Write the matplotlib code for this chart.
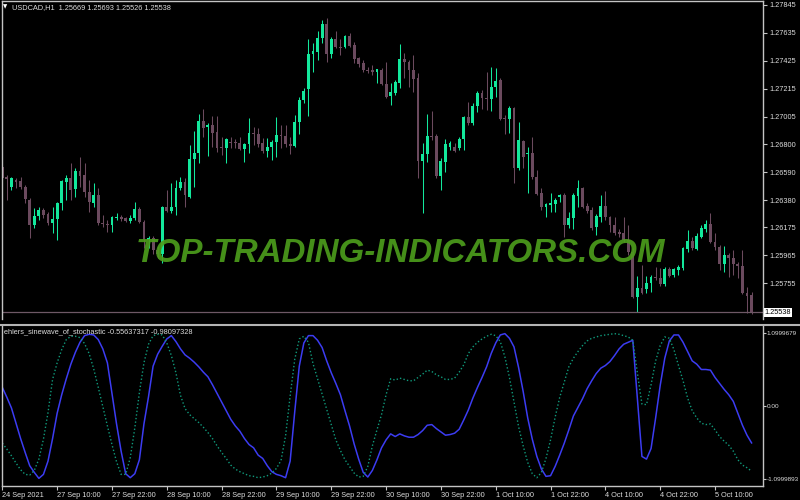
import matplotlib.pyplot as plt
import numpy as np

plt.rcParams["font.family"] = ["Liberation Sans", "DejaVu Sans"]

# USDCAD H1 candles, 24 Sep 2021 - 5 Oct 2021
opens = [
    1.26628, 1.26553, 1.26478, 1.26530, 1.26523, 1.26478, 1.26380, 1.26193, 1.26260, 1.26305,
    1.26275, 1.26208, 1.26238, 1.26358, 1.26515, 1.26545, 1.26463, 1.26598, 1.26568, 1.26440,
    1.26358, 1.26418, 1.26208, 1.26200, 1.26193, 1.26245, 1.26253, 1.26245, 1.26223, 1.26245,
    1.26313, 1.26215, 1.26080, 1.26095, 1.26005, 1.25975, 1.26328, 1.26298, 1.26328, 1.26470,
    1.26515, 1.26403, 1.26688, 1.26733, 1.26973, 1.26928, 1.26943, 1.26890, 1.26778, 1.26770,
    1.26815, 1.26815, 1.26808, 1.26763, 1.26800, 1.26883, 1.26875, 1.26808, 1.26748, 1.26778,
    1.26815, 1.26868, 1.26860, 1.26800, 1.26785, 1.26965, 1.27130, 1.27213, 1.27475, 1.27490,
    1.27595, 1.27700, 1.27475, 1.27588, 1.27528, 1.27528, 1.27610, 1.27543, 1.27445, 1.27408,
    1.27355, 1.27355, 1.27340, 1.27355, 1.27250, 1.27160, 1.27183, 1.27258, 1.27438, 1.27415,
    1.27355, 1.27295, 1.26673, 1.26725, 1.26860, 1.26860, 1.26560, 1.26665, 1.26778, 1.26778,
    1.26770, 1.26838, 1.27003, 1.26958, 1.27085, 1.27183, 1.27145, 1.27138, 1.27228, 1.27280,
    1.26995, 1.26988, 1.27070, 1.26620, 1.26823, 1.26725, 1.26733, 1.26553, 1.26433, 1.26328,
    1.26343, 1.26350, 1.26403, 1.26418, 1.26193, 1.26245, 1.26410, 1.26470, 1.26335, 1.26305,
    1.26178, 1.26253, 1.26335, 1.26253, 1.26193, 1.26140, 1.26133, 1.26080, 1.25990, 1.25653,
    1.25720, 1.25713, 1.25758, 1.25803, 1.25795, 1.25750, 1.25863, 1.25818, 1.25855, 1.25870,
    1.26013, 1.26073, 1.26013, 1.26103, 1.26163, 1.26200, 1.26065, 1.26028, 1.25900, 1.25968,
    1.25945, 1.25900, 1.25885, 1.25683, 1.25669,
]
highs = [
    1.26643, 1.26568, 1.26553, 1.26545, 1.26553, 1.26493, 1.26395, 1.26320, 1.26328, 1.26320,
    1.26290, 1.26328, 1.26365, 1.26530, 1.26568, 1.26658, 1.26620, 1.26703, 1.26658, 1.26530,
    1.26508, 1.26470, 1.26268, 1.26230, 1.26260, 1.26283, 1.26268, 1.26253, 1.26268, 1.26365,
    1.26328, 1.26230, 1.26110, 1.26110, 1.26035, 1.26335, 1.26455, 1.26508, 1.26530, 1.26553,
    1.26545, 1.26793, 1.26898, 1.27025, 1.27063, 1.26958, 1.27010, 1.27010, 1.26853, 1.26845,
    1.26853, 1.26838, 1.26853, 1.26808, 1.26995, 1.26928, 1.26920, 1.26845, 1.26845, 1.26830,
    1.27003, 1.26943, 1.26943, 1.26853, 1.27018, 1.27153, 1.27220, 1.27588, 1.27558, 1.27648,
    1.27730, 1.27745, 1.27603, 1.27648, 1.27588, 1.27618, 1.27633, 1.27565, 1.27453, 1.27430,
    1.27378, 1.27393, 1.27363, 1.27370, 1.27415, 1.27258, 1.27280, 1.27550, 1.27483, 1.27430,
    1.27468, 1.27333, 1.26808, 1.27025, 1.27048, 1.26875, 1.26695, 1.26838, 1.26823, 1.26808,
    1.26853, 1.27010, 1.27115, 1.27108, 1.27198, 1.27205, 1.27340, 1.27378, 1.27370, 1.27295,
    1.27018, 1.27085, 1.27078, 1.26965, 1.26830, 1.26778, 1.26853, 1.26605, 1.26470, 1.26358,
    1.26433, 1.26395, 1.26425, 1.26433, 1.26290, 1.26433, 1.26530, 1.26478, 1.26358, 1.26328,
    1.26275, 1.26418, 1.26448, 1.26260, 1.26253, 1.26163, 1.26253, 1.26193, 1.26020, 1.25810,
    1.25893, 1.25810, 1.25818, 1.25878, 1.25870, 1.25878, 1.25878, 1.25870, 1.25893, 1.26028,
    1.26155, 1.26103, 1.26133, 1.26193, 1.26230, 1.26283, 1.26133, 1.26043, 1.26035, 1.25983,
    1.26005, 1.25915, 1.26005, 1.25728, 1.25693,
]
lows = [
    1.26530, 1.26380, 1.26455, 1.26470, 1.26463, 1.26358, 1.26095, 1.26170, 1.26230, 1.26245,
    1.26193, 1.26133, 1.26080, 1.26305, 1.26380, 1.26380, 1.26403, 1.26478, 1.26403, 1.26290,
    1.26328, 1.26193, 1.26178, 1.26140, 1.26140, 1.26230, 1.26223, 1.26215, 1.26208, 1.26230,
    1.26208, 1.26020, 1.26020, 1.25975, 1.25945, 1.25908, 1.26290, 1.26283, 1.26268, 1.26455,
    1.26328, 1.26395, 1.26478, 1.26658, 1.26853, 1.26710, 1.26778, 1.26740, 1.26718, 1.26658,
    1.26770, 1.26770, 1.26755, 1.26665, 1.26733, 1.26793, 1.26778, 1.26733, 1.26703, 1.26680,
    1.26703, 1.26770, 1.26778, 1.26725, 1.26778, 1.26875, 1.27108, 1.27010, 1.27340, 1.27430,
    1.27558, 1.27415, 1.27445, 1.27520, 1.27468, 1.27520, 1.27528, 1.27408, 1.27378, 1.27340,
    1.27333, 1.27318, 1.27258, 1.27243, 1.27145, 1.27093, 1.27168, 1.27220, 1.27295, 1.27228,
    1.27190, 1.26545, 1.26283, 1.26665, 1.26830, 1.26545, 1.26455, 1.26590, 1.26755, 1.26740,
    1.26755, 1.26755, 1.26943, 1.26943, 1.27040, 1.27063, 1.27055, 1.27048, 1.27153, 1.26980,
    1.26875, 1.26883, 1.26508, 1.26605, 1.26620, 1.26433, 1.26538, 1.26418, 1.26305, 1.26253,
    1.26290, 1.26290, 1.26365, 1.26103, 1.26170, 1.26163, 1.26328, 1.26320, 1.26283, 1.26155,
    1.26118, 1.26215, 1.26230, 1.26140, 1.26118, 1.26103, 1.26065, 1.25968, 1.25645, 1.25540,
    1.25675, 1.25683, 1.25690, 1.25780, 1.25735, 1.25735, 1.25803, 1.25803, 1.25818, 1.25855,
    1.25990, 1.26005, 1.26005, 1.26095, 1.26140, 1.26058, 1.26005, 1.25855, 1.25840, 1.25803,
    1.25818, 1.25795, 1.25675, 1.25533, 1.25526,
]
closes = [
    1.26545, 1.26538, 1.26545, 1.26515, 1.26478, 1.26388, 1.26193, 1.26260, 1.26305, 1.26268,
    1.26208, 1.26238, 1.26358, 1.26523, 1.26545, 1.26455, 1.26598, 1.26560, 1.26440, 1.26365,
    1.26418, 1.26208, 1.26200, 1.26193, 1.26253, 1.26253, 1.26238, 1.26223, 1.26245, 1.26313,
    1.26215, 1.26080, 1.26095, 1.26005, 1.25975, 1.26328, 1.26298, 1.26328, 1.26470, 1.26515,
    1.26418, 1.26688, 1.26733, 1.26973, 1.26920, 1.26943, 1.26883, 1.26770, 1.26770, 1.26838,
    1.26808, 1.26808, 1.26763, 1.26800, 1.26883, 1.26875, 1.26800, 1.26748, 1.26778, 1.26815,
    1.26868, 1.26860, 1.26800, 1.26785, 1.26965, 1.27130, 1.27198, 1.27475, 1.27498, 1.27595,
    1.27700, 1.27475, 1.27588, 1.27528, 1.27520, 1.27610, 1.27535, 1.27438, 1.27400, 1.27355,
    1.27348, 1.27340, 1.27363, 1.27250, 1.27153, 1.27190, 1.27265, 1.27438, 1.27415, 1.27355,
    1.27288, 1.26673, 1.26725, 1.26860, 1.26853, 1.26560, 1.26673, 1.26800, 1.26808, 1.26748,
    1.26838, 1.27003, 1.26958, 1.27085, 1.27183, 1.27145, 1.27138, 1.27228, 1.27273, 1.26988,
    1.26988, 1.27070, 1.26620, 1.26830, 1.26703, 1.26733, 1.26553, 1.26425, 1.26328, 1.26350,
    1.26358, 1.26380, 1.26418, 1.26193, 1.26245, 1.26418, 1.26470, 1.26328, 1.26298, 1.26170,
    1.26260, 1.26335, 1.26253, 1.26193, 1.26133, 1.26125, 1.26080, 1.25990, 1.25653, 1.25720,
    1.25683, 1.25758, 1.25803, 1.25795, 1.25750, 1.25863, 1.25810, 1.25863, 1.25878, 1.26020,
    1.26073, 1.26020, 1.26110, 1.26170, 1.26200, 1.26065, 1.26028, 1.25900, 1.25968, 1.25945,
    1.25900, 1.25885, 1.25683, 1.25660, 1.25538,
]

# ehlers sinewave of stochastic (sine = solid, lead sine = dotted)
sine = [
    0.28, 0.13, -0.03, -0.26, -0.49, -0.70, -0.90, -1.00, -1.09, -1.03,
    -0.83, -0.49, -0.11, 0.17, 0.41, 0.63, 0.81, 0.96, 1.06, 1.08,
    1.07, 1.00, 0.86, 0.65, 0.19, -0.27, -0.68, -1.02, -1.08, -1.02,
    -0.81, -0.27, 0.14, 0.60, 0.78, 0.90, 1.01, 1.06, 0.97, 0.86,
    0.77, 0.72, 0.66, 0.59, 0.51, 0.44, 0.32, 0.19, 0.06, -0.07,
    -0.20, -0.30, -0.38, -0.49, -0.58, -0.63, -0.74, -0.79, -0.90, -0.99,
    -1.03, -1.05, -1.08, -0.83, -0.09, 0.60, 0.95, 1.06, 1.06, 0.99,
    0.88, 0.68, 0.50, 0.34, 0.17, -0.07, -0.30, -0.57, -0.80, -1.00,
    -1.07, -0.97, -0.81, -0.63, -0.51, -0.42, -0.46, -0.42, -0.45, -0.47,
    -0.47, -0.43, -0.37, -0.29, -0.28, -0.34, -0.39, -0.44, -0.43, -0.41,
    -0.35, -0.21, -0.06, 0.12, 0.28, 0.43, 0.59, 0.79, 0.95, 1.07,
    1.09, 1.02, 0.89, 0.58, 0.22, -0.18, -0.50, -0.76, -0.95, -1.06,
    -1.05, -0.91, -0.74, -0.56, -0.36, -0.15, -0.02, 0.11, 0.26, 0.38,
    0.49, 0.57, 0.61, 0.67, 0.76, 0.86, 0.93, 0.96, 0.99, 0.12,
    -0.76, -0.80, -0.64, -0.18, 0.31, 0.72, 0.98, 1.07, 1.07, 0.96,
    0.82, 0.68, 0.63, 0.55, 0.55, 0.54, 0.43, 0.34, 0.25, 0.17,
    0.07, -0.11, -0.29, -0.44, -0.556,
]
lead_sine = [
    -0.56, -0.65, -0.75, -0.86, -0.96, -1.03, -1.04, -0.97, -0.80, -0.50,
    -0.10, 0.40, 0.65, 0.85, 1.00, 1.05, 1.05, 1.03, 0.94, 0.79,
    0.56, 0.28, -0.01, -0.30, -0.58, -0.84, -1.03, -1.03, -0.78, -0.33,
    0.20, 0.65, 0.93, 1.06, 1.08, 1.07, 0.95, 0.76, 0.50, 0.16,
    -0.04, -0.13, -0.19, -0.25, -0.32, -0.40, -0.49, -0.60, -0.70, -0.79,
    -0.89, -0.95, -0.99, -1.02, -1.05, -1.06, -1.08, -1.07, -1.05, -1.01,
    -0.94, -0.82, -0.45, 0.15, 0.70, 1.01, 1.05, 0.96, 0.64, 0.41,
    0.18, -0.05, -0.28, -0.51, -0.67, -0.81, -0.91, -1.01, -1.07, -1.06,
    -0.91, -0.60, -0.36, -0.13, 0.17, 0.41, 0.39, 0.42, 0.40, 0.38,
    0.38, 0.43, 0.48, 0.54, 0.52, 0.47, 0.44, 0.40, 0.40, 0.42,
    0.51, 0.62, 0.79, 0.89, 0.96, 1.01, 1.05, 1.08, 1.06, 0.97,
    0.74, 0.43, 0.06, -0.31, -0.60, -0.85, -1.02, -1.08, -1.00, -0.79,
    -0.51, -0.17, 0.13, 0.36, 0.59, 0.72, 0.82, 0.91, 0.98, 1.02,
    1.04, 1.06, 1.07, 1.08, 1.09, 1.08, 1.06, 1.04, 0.99, 0.50,
    0.03, 0.02, 0.32, 0.68, 0.91, 1.04, 1.02, 0.85, 0.61, 0.38,
    0.12, -0.07, -0.18, -0.26, -0.28, -0.27, -0.36, -0.46, -0.53, -0.59,
    -0.68, -0.81, -0.89, -0.93, -0.981,
]

price_ticks = [1.27845, 1.27635, 1.27425, 1.27215, 1.27005, 1.26800,
               1.26590, 1.26380, 1.26175, 1.25965, 1.25755]
last_price = 1.25538
osc_ticks = [1.0999679, 0.0, -1.0999893]
osc_labels = ["1.0999679", "0.00", "-1.0999893"]
time_ticks = [0, 12, 24, 36, 48, 60, 72, 84, 96, 108, 120, 132, 144, 156]
time_labels = ["24 Sep 2021", "27 Sep 10:00", "27 Sep 22:00", "28 Sep 10:00",
               "28 Sep 22:00", "29 Sep 10:00", "29 Sep 22:00", "30 Sep 10:00",
               "30 Sep 22:00", "1 Oct 10:00", "1 Oct 22:00", "4 Oct 10:00",
               "4 Oct 22:00", "5 Oct 10:00"]

up_color = "#13e89c"
down_color = "#6b4a5e"
axis_color = "#c4c4c4"
text_color = "#dcdcdc"
fs = 5.3

fig = plt.figure(figsize=(8, 5), dpi=100, facecolor="black")
ax = fig.add_axes([2 / 800, 1 - 319 / 500, 761 / 800, 318 / 500], facecolor="black")
ax2 = fig.add_axes([2 / 800, 1 - 486 / 500, 761 / 800, 160 / 500], facecolor="black")

o = np.array(opens)
h = np.array(highs)
l = np.array(lows)
c = np.array(closes)
x = np.arange(len(c))
up = c >= o

# candles
ax.vlines(x[up], l[up], h[up], color=up_color, lw=0.75)
ax.vlines(x[~up], l[~up], h[~up], color=down_color, lw=0.75)
body_bottom = np.minimum(o, c)
body_height = np.maximum(np.abs(c - o), 0.00005)
ax.bar(x[up], body_height[up], bottom=body_bottom[up], width=0.62, color=up_color, lw=0)
ax.bar(x[~up], body_height[~up], bottom=body_bottom[~up], width=0.62, color=down_color, lw=0)

ax.axhline(last_price, color="#6e5866", lw=0.9)
ax.text(1.002, last_price, "1.25538", transform=ax.get_yaxis_transform(),
        ha="left", va="center", fontsize=fs, color="black",
        bbox=dict(boxstyle="square,pad=0.12", fc="white", ec="none"))

ax.set_xlim(-0.07, 166.5)
ax.set_ylim(1.25488, 1.27873)
ax.set_yticks(price_ticks)
ax.set_yticklabels([f"{p:.5f}" for p in price_ticks])
ax.tick_params(axis="y", left=False, labelleft=False, right=True, labelright=True,
               length=3, width=0.8, color=axis_color, labelcolor=text_color,
               labelsize=fs, pad=1.5)
ax.tick_params(axis="x", bottom=False, labelbottom=False)
for side in ["left", "top", "right"]:
    ax.spines[side].set_color(axis_color)
    ax.spines[side].set_linewidth(1)
ax.spines["bottom"].set_visible(False)

# indicator window
ax2.plot(x, sine, color="#3c3cf2", lw=1.1)
ax2.plot(x, lead_sine, color="#109a7c", lw=1.0, linestyle=(0, (1, 1.6)))
ax2.set_xlim(-0.07, 166.5)
ax2.set_ylim(-1.205, 1.205)
ax2.set_yticks(osc_ticks)
ax2.set_yticklabels(osc_labels)
# the long oscillator labels are a little smaller so they fit inside the picture
ax2.tick_params(axis="y", left=False, labelleft=False, right=True, labelright=True,
                length=2, width=0.8, color=axis_color, labelcolor=text_color,
                labelsize=4.6, pad=0.8)
ax2.set_xticks(time_ticks)
ax2.set_xticklabels(time_labels, ha="left")
ax2.tick_params(axis="x", length=3, width=0.8, color=axis_color,
                labelcolor=text_color, labelsize=fs, pad=1.5)
for side in ["left", "bottom", "right"]:
    ax2.spines[side].set_color(axis_color)
    ax2.spines[side].set_linewidth(1)
ax2.spines["top"].set_visible(False)

fig.add_artist(plt.Line2D([0, 1], [1 - 325 / 500] * 2, color="#b4b4b4", lw=1.5))

fig.text(5 / 800, 1 - 7 / 500, "▼", fontsize=4, color="white", ha="center",
         va="center", family="DejaVu Sans")
fig.text(12 / 800, 1 - 7.5 / 500, "USDCAD,H1  1.25669 1.25693 1.25526 1.25538",
         fontsize=fs, color=text_color, va="center")
fig.text(4 / 800, 1 - 332 / 500, "ehlers_sinewave_of_stochastic -0.55637317 -0.98097328",
         fontsize=fs, color=text_color, va="center")

fig.text(0.5, 1 - 262 / 500, "TOP-TRADING-INDICATORS.COM", ha="center", va="baseline",
         fontsize=23.9, fontweight="bold", fontstyle="italic", color="#4c9c1c", alpha=0.92)

fig.savefig("out.png", dpi=100, facecolor="black")
